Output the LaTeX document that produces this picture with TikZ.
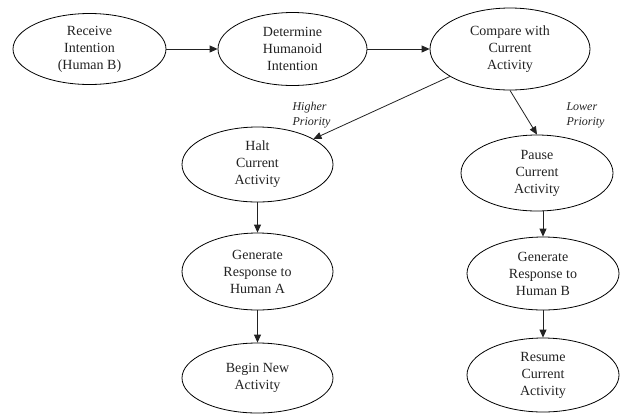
\documentclass[tikz,border=0pt]{standalone}
\usepackage{fontspec}
\setmainfont{Liberation Serif}
\usetikzlibrary{shapes.geometric,arrows.meta}
\definecolor{ink}{HTML}{222222}
\begin{document}
\begin{tikzpicture}[x=1pt,y=-1pt,
  stage/.style={ellipse,draw=black,line width=0.8pt,inner sep=0pt,align=center,
    text=ink,font=\fontsize{14}{17}\selectfont,minimum width=151pt,minimum height=75pt},
  flow/.style={draw=ink,-{Triangle[length=8pt,width=7pt]},line width=0.8pt},
  prio/.style={text=ink,font=\itshape\fontsize{12}{15}\selectfont,align=left,anchor=west}]
\useasboundingbox (0,0) rectangle (623,416);
% top row
\node[stage,minimum width=153pt,minimum height=71pt] (rec) at (89.5,49) {Receive\\Intention\\(Human B)};
\node[stage,minimum width=149pt,minimum height=73pt] (det) at (292.5,49) {Determine\\Humanoid\\Intention};
\node[stage,minimum width=160pt,minimum height=82pt] (cmp) at (510,49) {Compare with\\Current\\Activity};
% left branch
\node[stage] (halt) at (257.5,164.5) {Halt\\Current\\Activity};
\node[stage,minimum height=77pt] (gena) at (257.5,271.5) {Generate\\Response to\\Human A};
\node[stage,minimum height=70pt] (begin) at (257.5,378) {Begin New\\Activity};
% right branch
\node[stage,minimum width=152pt,minimum height=76pt] (pause) at (537,173) {Pause\\Current\\Activity};
\node[stage,minimum width=152pt,minimum height=73pt] (genb) at (543,273.5) {Generate\\Response to\\Human B};
\node[stage,minimum width=152pt,minimum height=74pt] (res) at (543,375) {Resume\\Current\\Activity};
% branch labels
\node[prio] (hp) at (289,115) {Higher\\Priority};
\node[prio] (lp) at (563,115) {Lower\\Priority};
% connectors
\draw[flow] (rec) -- (det);
\draw[flow] (det) -- (cmp);
\draw[flow] (cmp) -- (halt);
\draw[flow] (cmp.south) -- (pause.north);
\draw[flow] (halt) -- (gena);
\draw[flow] (gena) -- (begin);
\draw[flow] (pause.south -| genb.north) -- (genb.north);
\draw[flow] (genb) -- (res);
\end{tikzpicture}
\end{document}
